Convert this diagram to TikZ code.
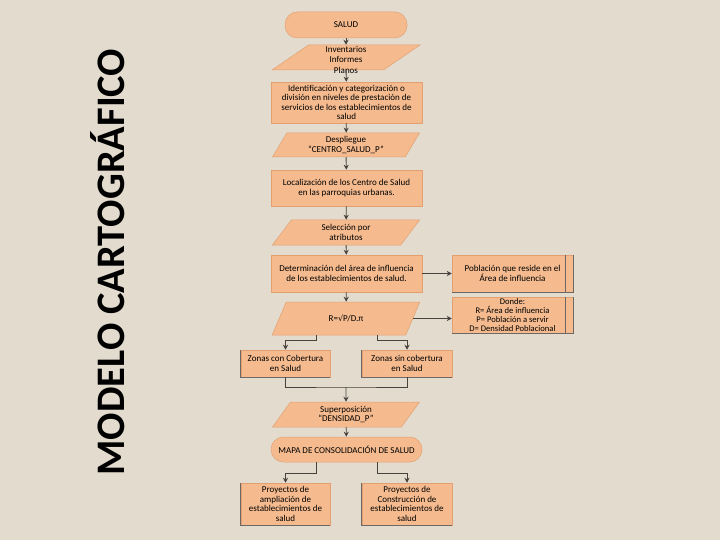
\documentclass[tikz,border=0pt]{standalone}
\usepackage{fontspec}
\setmainfont{Carlito}
\newfontfamily\symfont{DejaVu Sans}
\usetikzlibrary{shapes.geometric,arrows.meta}
\definecolor{bgc}{RGB}{226,219,206}
\definecolor{boxc}{RGB}{245,187,143}
\definecolor{edgec}{RGB}{226,160,112}
\definecolor{linec}{RGB}{72,66,60}
\tikzset{
  base/.style={fill=boxc, draw=edgec, line width=0.5pt, font=\fontsize{9}{9.8}\selectfont, align=center, inner sep=1pt},
  procbox/.style={base, rectangle},
  termbox/.style={base, rectangle, rounded corners=12.5pt},
  iobox/.style={base, trapezium, trapezium left angle=64, trapezium right angle=116, trapezium stretches=true, minimum width=148pt},
  txt/.style={font=\fontsize{9}{10.5}\selectfont, align=center, inner sep=0pt},
  conn/.style={draw=linec, line width=0.9pt, -{Stealth[length=5pt,width=5pt]}},
  plain/.style={draw=linec, line width=0.9pt},
  darkedge/.style={draw=linec!80, line width=0.9pt}
}
\begin{document}
\begin{tikzpicture}[x=1pt,y=-1pt]
\fill[bgc] (0,0) rectangle (720,540);
\useasboundingbox (0,0) rectangle (720,540);

\node[rotate=90, font=\fontsize{40.5}{42}\bfseries, text=black] (title) at (108,262) {MODELO CARTOGRÁFICO};

\node[termbox, minimum width=122pt, minimum height=26pt] (salud) at (346,25) {SALUD};
\node[iobox, minimum height=25pt] (inv) at (346,57.5) {};
\node[txt] (invt) at (346,59.5) {Inventarios\\Informes\\Planos};
\node[procbox, minimum width=151pt, minimum height=41pt, inner ysep=0pt, font=\fontsize{9}{9.4}\selectfont] (ident) at (346.5,102.5) {Identificación y categorización o\\división en niveles de prestación de\\servicios de los establecimientos de\\salud};
\node[iobox, minimum height=24pt] (desp) at (346,145) {Despliegue\\``CENTRO\_SALUD\_P''};
\node[procbox, minimum width=151pt, minimum height=36pt] (loc) at (346.5,188) {Localización de los Centro de Salud\\en las parroquias urbanas.};
\node[iobox, minimum height=25pt] (sel) at (346,232.5) {Selección por\\atributos};
\node[procbox, minimum width=151pt, minimum height=37pt] (det) at (346.5,273.5) {Determinación del área de influencia\\de los establecimientos de salud.};
\node[procbox, minimum width=121pt, minimum height=37pt] (pob) at (512.5,273.5) {Población que reside en el\\Área de influencia};
\node[iobox, minimum height=33pt] (r) at (346,318.5) {R={\symfont\fontsize{8}{9}\selectfont √}P/D.π};
\node[procbox, minimum width=121pt, minimum height=36pt, font=\fontsize{8.6}{8.7}\selectfont] (donde) at (512.5,315) {Donde:\\R= Área de influencia\\P= Población a servir\\D= Densidad Poblacional};
\node[procbox, minimum width=89pt, minimum height=27pt] (zc) at (285.5,363.5) {Zonas con Cobertura\\en Salud};
\node[procbox, minimum width=90pt, minimum height=27pt] (zs) at (407,363.5) {Zonas sin cobertura\\en Salud};
\node[iobox, minimum height=25pt] (sup) at (346,414.5) {Superposición\\``DENSIDAD\_P''};
\node[termbox, minimum width=151pt, minimum height=25pt] (mapa) at (346.5,449.5) {MAPA DE CONSOLIDACIÓN DE SALUD};
\node[procbox, minimum width=89pt, minimum height=42pt] (pa) at (285.5,504) {Proyectos de\\ampliación de\\establecimientos de\\salud};
\node[procbox, minimum width=90pt, minimum height=42pt] (pc) at (407,504) {Proyectos de\\Construcción de\\establecimientos de\\salud};

% dark edges
\draw[darkedge] ([xshift=-8pt]pob.north east) -- ([xshift=-8pt]pob.south east);
\draw[darkedge] (pob.north east) -- (pob.south east) -- (pob.south west);
\draw[darkedge] ([xshift=-8pt]donde.north east) -- ([xshift=-8pt]donde.south east);
\draw[darkedge] (donde.north east) -- (donde.south east) -- (donde.south west);
\foreach \n in {zc,zs,pa,pc}{\draw[darkedge] (\n.north west) -- (\n.south west) -- (\n.south east);}

% connectors
\draw[conn] (salud) -- (inv);
\draw[conn] (inv) -- (ident);
\draw[conn] (ident) -- (desp);
\draw[conn] (desp) -- (loc);
\draw[conn] (loc) -- (sel);
\draw[conn] (sel) -- (det);
\draw[conn] (det) -- (r);
\draw[conn] (det.east) -- (pob.west);
\draw[conn] (r.east) -- (r.east -| donde.west);

\coordinate (r1) at ([xshift=-30pt]r.south);
\coordinate (r2) at ([xshift=31pt]r.south);
\draw[conn] (r1) |- (285.5,340) -- (zc.north);
\draw[conn] (r2) |- (407,340) -- (zs.north);

\coordinate (jn) at (346,387);
\draw[plain] (zc.south) |- (jn) -| (zs.south);
\draw[conn] (jn) -- (sup.north);
\draw[conn] (sup) -- (mapa);

\coordinate (m1) at ([xshift=-30.5pt]mapa.south);
\coordinate (m2) at ([xshift=30.5pt]mapa.south);
\draw[conn] (m1) |- (285.5,473) -- (pa.north);
\draw[conn] (m2) |- (407,473) -- (pc.north);
\end{tikzpicture}
\end{document}
